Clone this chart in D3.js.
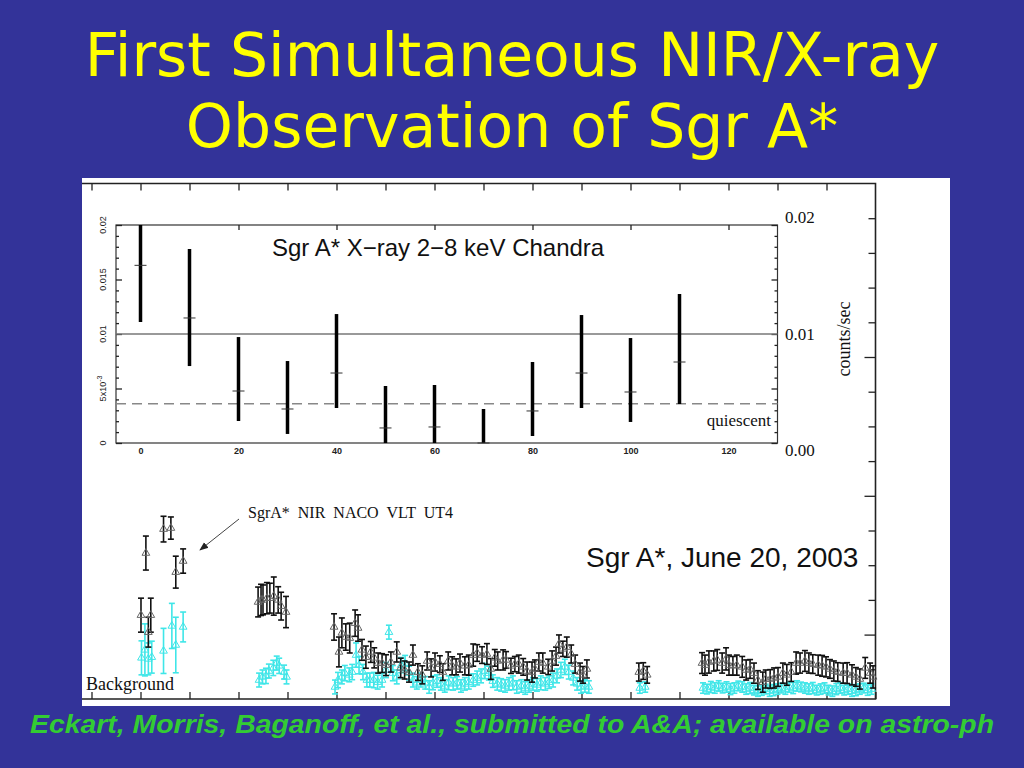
<!DOCTYPE html>
<html>
<head>
<meta charset="utf-8">
<script src="https://cdnjs.cloudflare.com/ajax/libs/d3/7.8.5/d3.min.js"></script>
<style>
body { margin: 0; background: #333399; }
.tick text { font-family: "Liberation Sans", Arial, sans-serif; }
</style>
</head>
<body>
<script>
var titleLines = ["First Simultaneous NIR/X-ray", "Observation of Sgr A*"];
var footerText = "Eckart, Morris, Baganoff, et al., submitted to A&A; available on astro-ph";

// Chandra 2-8 keV, counts/sec in 10 min bins
var xrayTime = [0, 10, 20, 30, 40, 50, 60, 70, 80, 90, 100, 110];
var xrayRate = [0.0163, 0.01147, 0.00477, 0.00312, 0.00642, 0.00138, 0.00147, 0.0, 0.00294, 0.00642, 0.00468, 0.00743];
var xrayLow  = [0.0111, 0.00706, 0.00202, 0.00083, 0.00321, 0.0, 0.0, 0.0, 0.00064, 0.00321, 0.00193, 0.00358];
var xrayHigh = [0.0200, 0.0178, 0.00972, 0.00752, 0.01183, 0.00523, 0.00532, 0.00312, 0.00743, 0.01174, 0.00963, 0.01367];
var quiescentLevel = 0.0036, refLevel = 0.01;
var xrayTicks = [0, 20, 40, 60, 80, 100, 120];
var xrayLeftLabels = [0, 0.005, 0.01, 0.015, 0.02];
var xrayRightLabels = ["0.02", "0.01", "0.00"];

// NACO NIR, SgrA* (minutes, flux)
var nirTime = [0.1, 1.1, 1.6, 2.1, 4.7, 6.2, 7.2, 8.7,
    24.0, 24.6, 25.0, 25.8, 26.4, 27.2, 28.1, 28.7, 29.7,
    39.5, 40.5, 41.1, 41.9, 42.7, 43.8, 44.4, 45.2, 46.0, 47.0, 47.7, 48.5, 49.3, 50.1, 51.1, 52.3, 53.1, 53.9, 54.8, 55.6,
    56.6, 57.5, 58.5, 59.3, 60.1, 61.1, 61.7, 62.8, 63.6, 64.4, 65.2, 66.2, 67.0, 67.9, 68.7, 69.7, 70.7, 71.5, 72.3, 72.9,
    74.0, 74.6, 75.6, 76.4, 77.2, 78.1, 78.9, 79.9, 80.5, 81.3, 82.1, 83.2, 84.0, 84.8, 85.4, 86.2, 87.0, 87.9, 88.7, 89.7, 90.3, 91.1,
    101.7, 102.6, 103.4,
    114.6, 115.2, 116.0, 117.0, 117.7, 118.7, 119.5, 120.1, 120.9, 121.7, 122.8, 123.6, 124.4, 125.2, 126.0, 127.0, 127.6, 128.5,
    129.3, 130.1, 131.1, 131.9, 132.8, 133.8, 134.6, 135.6, 136.4, 137.2, 138.3, 139.1, 139.9, 140.7, 141.5, 142.3, 143.4, 144.2,
    145.2, 146.0, 146.8, 147.9, 148.9, 149.5];
var nirFlux = [2.56, 4.35, 2.07, 2.56, 5.04, 5.07, 3.80, 4.12,
    2.94, 3.00, 3.00, 3.05, 3.05, 3.11, 3.00, 2.82, 2.65,
    2.22, 1.50, 2.05, 1.93, 1.90, 2.33, 2.19, 1.56, 1.35, 1.50, 1.33, 1.18, 1.18, 1.12, 1.21, 1.50, 1.04, 0.98, 0.92, 1.41,
    0.92, 0.84, 1.24, 1.04, 1.21, 1.15, 0.92, 1.24, 1.10, 1.07, 1.18, 1.10, 1.12, 1.41, 1.47, 1.41, 1.44, 1.01, 1.33, 1.24,
    1.27, 1.27, 1.10, 1.15, 1.15, 1.07, 0.95, 0.92, 1.01, 1.21, 1.18, 1.07, 1.24, 1.38, 1.73, 1.59, 1.64, 1.44, 1.15, 0.92, 0.84, 1.01,
    0.92, 0.95, 0.84,
    1.18, 1.12, 1.21, 1.24, 1.27, 1.18, 1.30, 1.12, 1.10, 1.12, 1.07, 0.98, 1.01, 0.89, 0.69, 0.63, 0.72, 0.72,
    0.75, 0.78, 0.89, 0.84, 0.92, 1.18, 1.18, 1.24, 1.18, 1.15, 1.12, 1.10, 1.07, 1.01, 0.95, 0.92, 0.89, 0.89,
    0.84, 0.78, 0.72, 1.04, 0.89, 0.78];
var nirErr = [0.49, 0.49, 0.43, 0.49, 0.37, 0.32, 0.46, 0.35,
    0.43, 0.45, 0.43, 0.45, 0.43, 0.55, 0.38, 0.40, 0.45,
    0.38, 0.43, 0.43, 0.38, 0.43, 0.38, 0.38, 0.30, 0.32, 0.30, 0.29, 0.29, 0.27, 0.30, 0.29, 0.29, 0.28, 0.26, 0.29, 0.29,
    0.24, 0.26, 0.26, 0.26, 0.26, 0.24, 0.24, 0.26, 0.26, 0.23, 0.26, 0.26, 0.29, 0.32, 0.24, 0.24, 0.30, 0.30, 0.24, 0.26,
    0.29, 0.24, 0.22, 0.22, 0.26, 0.24, 0.26, 0.29, 0.26, 0.26, 0.29, 0.22, 0.29, 0.26, 0.26, 0.22, 0.29, 0.26, 0.26, 0.26, 0.24, 0.26,
    0.26, 0.24, 0.24,
    0.30, 0.29, 0.32, 0.29, 0.30, 0.29, 0.32, 0.29, 0.27, 0.29, 0.30, 0.29, 0.27, 0.29, 0.27, 0.29, 0.26, 0.27,
    0.29, 0.27, 0.29, 0.30, 0.27, 0.32, 0.29, 0.30, 0.29, 0.27, 0.29, 0.30, 0.29, 0.27, 0.29, 0.27, 0.29, 0.30,
    0.29, 0.27, 0.29, 0.30, 0.29, 0.32];

// NACO NIR, background
var bgTime = [0.2, 0.9, 1.6, 2.3, 4.7, 6.4, 7.2, 8.7,
    24.2, 24.9, 25.6, 26.2, 27.1, 27.8, 28.3, 29.3, 29.8,
    39.7, 40.3, 41.1, 41.7, 42.6, 43.2, 44.0, 44.6, 45.4, 46.2, 46.8, 47.6, 48.4, 49.3, 50.1, 50.7, 51.5, 52.3, 53.2, 54.0,
    54.8, 55.6, 56.4, 57.2, 58.1, 58.9, 59.7, 60.5, 61.3, 62.1, 62.9, 63.8, 64.6, 65.4, 66.2, 67.0, 67.9, 68.7, 69.5, 70.3,
    71.1, 71.9, 72.8, 73.6, 74.4, 75.2, 76.0, 76.8, 77.7, 78.5, 79.3, 80.1, 80.9, 81.7, 82.6, 83.4, 84.2, 85.0, 85.8, 86.6,
    87.4, 88.3, 89.1, 89.9, 90.7, 91.5,
    101.9, 103.0,
    114.8, 115.6, 116.4, 117.2, 118.0, 118.8, 119.6, 120.4, 121.2, 122.0, 122.8, 123.6, 124.4, 125.2, 126.0, 126.8, 127.6, 128.4,
    129.2, 130.0, 130.8, 131.6, 132.4, 133.2, 134.0, 134.8, 135.6, 136.4, 137.2, 138.0, 138.8, 139.6, 140.4, 141.2, 142.0, 142.8,
    143.6, 144.4, 145.2, 146.0, 146.8, 147.6, 148.4, 149.2];
var bgFlux = [1.33, 1.56, 1.30, 1.35, 1.53, 2.25, 1.70, 2.22,
    0.69, 0.78, 0.81, 0.95, 1.04, 1.18, 1.10, 0.92, 0.78,
    0.49, 0.69, 0.78, 0.89, 0.84, 0.92, 1.41, 1.12, 0.92, 0.69, 0.69, 0.69, 0.63, 0.69, 0.98, 2.07, 0.89, 0.78, 1.12, 1.18,
    0.89, 0.69, 0.61, 0.69, 0.61, 0.49, 0.61, 0.66, 0.58, 0.52, 0.61, 0.58, 0.61, 0.52, 0.58, 0.63, 0.69, 0.75, 0.81, 0.95,
    0.89, 0.66, 0.58, 0.55, 0.52, 0.58, 0.61, 0.49, 0.52, 0.46, 0.52, 0.58, 0.55, 0.61, 0.58, 0.63, 0.69, 0.81, 0.98, 1.07,
    0.92, 0.75, 0.58, 0.49, 0.52, 0.49,
    0.46, 0.49,
    0.46, 0.43, 0.49, 0.46, 0.52, 0.46, 0.49, 0.43, 0.46, 0.52, 0.49, 0.43, 0.46, 0.40, 0.37, 0.40, 0.43, 0.37,
    0.40, 0.43, 0.46, 0.43, 0.49, 0.46, 0.52, 0.49, 0.46, 0.43, 0.46, 0.40, 0.43, 0.46, 0.40, 0.37, 0.43, 0.46,
    0.40, 0.43, 0.37, 0.40, 0.43, 0.46, 0.40, 0.43];
var bgErr = [0.49, 0.75, 0.46, 0.46, 0.65, 0.65, 0.80, 0.43,
    0.20, 0.20, 0.22, 0.20, 0.22, 0.20, 0.22, 0.20, 0.20,
    0.20, 0.22, 0.20, 0.22, 0.20, 0.22, 0.35, 0.25, 0.22, 0.20, 0.20, 0.22, 0.20, 0.20, 0.22, 0.20, 0.22, 0.20, 0.22, 0.22,
    0.20, 0.20, 0.18, 0.20, 0.18, 0.18, 0.20, 0.18, 0.18, 0.18, 0.20, 0.18, 0.18, 0.18, 0.18, 0.20, 0.18, 0.20, 0.20, 0.22,
    0.20, 0.18, 0.18, 0.18, 0.18, 0.18, 0.20, 0.18, 0.18, 0.18, 0.18, 0.18, 0.18, 0.20, 0.18, 0.18, 0.20, 0.20, 0.22, 0.22,
    0.20, 0.20, 0.18, 0.18, 0.18, 0.18,
    0.15, 0.15,
    0.15, 0.14, 0.16, 0.15, 0.15, 0.14, 0.15, 0.16, 0.15, 0.14, 0.15, 0.15, 0.16, 0.14, 0.15, 0.15, 0.14, 0.15,
    0.16, 0.15, 0.14, 0.15, 0.15, 0.16, 0.15, 0.14, 0.15, 0.15, 0.16, 0.14, 0.15, 0.15, 0.14, 0.15, 0.16, 0.15,
    0.14, 0.15, 0.15, 0.16, 0.15, 0.14, 0.15, 0.15];

var nirTimeTicks = [-10, 0, 10, 20, 30, 40, 50, 60, 70, 80, 90, 100, 110, 120, 130, 140];
var nirFluxTicks = [1, 2, 3, 4, 5, 6, 7, 8, 9, 10, 11, 12, 13, 14];

var w = 1024, h = 768,
    panelL = 82, panelT = 178, panelR = 950, panelB = 706,
    frameTop = 183.5, frameBottom = 699, frameRight = 875.5;

var svg = d3.select("body").append("svg")
    .attr("width", w)
    .attr("height", h);

svg.append("rect").attr("width", w).attr("height", h).style("fill", "#333399");

svg.selectAll(".title")
    .data(titleLines)
    .enter()
    .append("text")
    .attr("class", "title")
    .attr("x", 512)
    .attr("y", function (d, i) { return 76 + i * 71; })
    .attr("text-anchor", "middle")
    .style("font-family", "'DejaVu Sans', Verdana, sans-serif")
    .style("font-size", "60px")
    .style("fill", "#ffff00")
    .text(function (d) { return d; });

svg.append("rect")
    .attr("x", panelL).attr("y", panelT)
    .attr("width", panelR - panelL).attr("height", panelB - panelT)
    .style("fill", "#ffffff");

var x = d3.scaleLinear().domain([-12, 150]).range([81.7, 875.5]),
    yN = d3.scaleLinear().domain([0, 15]).range([704, 183.5]),
    yX = d3.scaleLinear().domain([0, 0.02]).range([443, 225]),
    yR = d3.scaleLinear().domain([0, 0.02]).range([450, 217]);

var plot = svg.append("g");

// outer NIR frame
plot.append("path")
    .attr("d", "M" + panelL + "," + frameTop + "H" + frameRight + "V" + frameBottom + "H" + panelL)
    .style("fill", "none")
    .style("stroke", "#222")
    .style("stroke-width", 1.6);

function styleAxis(g) {
    g.select(".domain").remove();
    g.selectAll(".tick line").style("stroke", "#222").style("stroke-width", 1.3);
    g.selectAll(".tick text").remove();
}

plot.append("g")
    .attr("transform", "translate(0," + frameTop + ")")
    .call(d3.axisBottom(x).tickValues(nirTimeTicks).tickSize(7))
    .call(styleAxis);
plot.append("g")
    .attr("transform", "translate(0," + frameBottom + ")")
    .call(d3.axisTop(x).tickValues(nirTimeTicks.concat([150])).tickSize(7))
    .call(styleAxis);
plot.append("g")
    .attr("transform", "translate(" + frameRight + ",0)")
    .call(d3.axisLeft(yN).tickValues(nirFluxTicks).tickSize(7))
    .call(styleAxis)
    .selectAll(".tick line")
    .attr("x2", function (d) { return (d == 2 || d == 6 || d == 10) ? -11 : -7; });

function drawSeries(times, flux, err, barColor, markColor) {
    var pts = times.map(function (t, i) { return {t: t, v: flux[i], e: err[i]}; });
    var g = plot.append("g")
        .style("stroke", barColor)
        .style("stroke-width", 1.6)
        .style("fill", "none");
    g.selectAll(".bar").data(pts).enter().append("line")
        .attr("x1", function (d) { return x(d.t); })
        .attr("x2", function (d) { return x(d.t); })
        .attr("y1", function (d) { return yN(d.v - d.e); })
        .attr("y2", function (d) { return yN(d.v + d.e); });
    g.selectAll(".capHi").data(pts).enter().append("line")
        .attr("x1", function (d) { return x(d.t) - 3; })
        .attr("x2", function (d) { return x(d.t) + 3; })
        .attr("y1", function (d) { return yN(d.v + d.e); })
        .attr("y2", function (d) { return yN(d.v + d.e); });
    g.selectAll(".capLo").data(pts).enter().append("line")
        .attr("x1", function (d) { return x(d.t) - 3; })
        .attr("x2", function (d) { return x(d.t) + 3; })
        .attr("y1", function (d) { return yN(d.v - d.e); })
        .attr("y2", function (d) { return yN(d.v - d.e); });
    g.selectAll(".mark").data(pts).enter().append("path")
        .attr("transform", function (d) { return "translate(" + x(d.t) + "," + yN(d.v) + ")"; })
        .attr("d", d3.symbol(d3.symbolTriangle).size(26))
        .style("stroke", markColor)
        .style("stroke-width", 1);
}

plot.append("text")
    .attr("x", 86).attr("y", 690)
    .style("font-family", "'Liberation Serif', 'Times New Roman', serif")
    .style("font-size", "18px")
    .style("fill", "#111")
    .text("Background");

drawSeries(bgTime, bgFlux, bgErr, "#3fe6e8", "#3fe6e8");
drawSeries(nirTime, nirFlux, nirErr, "#111111", "#666666");

plot.append("text")
    .attr("x", 248).attr("y", 518)
    .style("font-family", "'Liberation Serif', 'Times New Roman', serif")
    .style("font-size", "16px")
    .style("white-space", "pre")
    .style("fill", "#111")
    .text("SgrA*  NIR  NACO  VLT  UT4");

svg.append("defs").append("marker")
    .attr("id", "arrow")
    .attr("viewBox", "0 0 10 10")
    .attr("refX", 9).attr("refY", 5)
    .attr("markerWidth", 9).attr("markerHeight", 9)
    .attr("orient", "auto")
    .append("path")
    .attr("d", "M0,1L10,5L0,9z")
    .style("fill", "#222");

plot.append("line")
    .attr("x1", 239).attr("y1", 519)
    .attr("x2", 200).attr("y2", 550)
    .style("stroke", "#444")
    .style("stroke-width", 1)
    .attr("marker-end", "url(#arrow)");

plot.append("text")
    .attr("x", 586).attr("y", 567)
    .style("font-family", "'Liberation Sans', Arial, sans-serif")
    .style("font-size", "28px")
    .style("fill", "#111")
    .text("Sgr A*, June 20, 2003");

// inner X-ray plot
var xr = svg.append("g");
var innerL = x(-5), innerR = x(130), innerT = yX(0.02), innerB = yX(0);

xr.append("rect")
    .attr("x", innerL).attr("y", innerT)
    .attr("width", innerR - innerL).attr("height", innerB - innerT)
    .style("fill", "#fff")
    .style("stroke", "#333")
    .style("stroke-width", 1.2);

var minorY = d3.range(0, 0.0201, 0.001);
xr.append("g")
    .attr("transform", "translate(" + innerL + ",0)")
    .call(d3.axisRight(yX).tickValues(minorY).tickSize(3))
    .call(styleAxis)
    .selectAll(".tick line").attr("x2", function (d, i) { return i % 5 == 0 ? 6 : 3; });
xr.append("g")
    .attr("transform", "translate(" + innerR + ",0)")
    .call(d3.axisLeft(yX).tickValues(minorY).tickSize(3))
    .call(styleAxis)
    .selectAll(".tick line").attr("x2", function (d, i) { return i % 5 == 0 ? -6 : -3; });
xr.append("g")
    .attr("transform", "translate(0," + innerT + ")")
    .call(d3.axisBottom(x).tickValues(xrayTicks).tickSize(5))
    .call(styleAxis);

var xLab = xr.append("g")
    .attr("transform", "translate(0," + innerB + ")")
    .call(d3.axisBottom(x).tickValues(xrayTicks).tickSize(0).tickPadding(5));
xLab.select(".domain").remove();
xLab.selectAll(".tick text")
    .style("font-size", "9px")
    .style("font-weight", "bold")
    .style("fill", "#222");

xr.selectAll(".ylab")
    .data(xrayLeftLabels)
    .enter()
    .append("text")
    .attr("transform", function (d) { return "translate(106," + yX(d) + ") rotate(-90)"; })
    .attr("text-anchor", "middle")
    .style("font-family", "'Liberation Sans', Arial, sans-serif")
    .style("font-size", "9px")
    .style("fill", "#222")
    .each(function (d) {
        var t = d3.select(this);
        if (d == 0.005) {
            t.append("tspan").text("5x10");
            t.append("tspan").attr("dy", -4).style("font-size", "7px").text("-3");
        } else {
            t.text(d == 0 ? "0" : String(d));
        }
    });

xr.append("line")
    .attr("x1", innerL).attr("x2", innerR)
    .attr("y1", yX(refLevel)).attr("y2", yX(refLevel))
    .style("stroke", "#777").style("stroke-width", 1.3);
xr.append("line")
    .attr("x1", innerL).attr("x2", innerR)
    .attr("y1", yX(quiescentLevel)).attr("y2", yX(quiescentLevel))
    .style("stroke", "#888").style("stroke-width", 1.5)
    .style("stroke-dasharray", "10,6");

var xpts = xrayTime.map(function (t, i) { return {t: t, v: xrayRate[i], lo: xrayLow[i], hi: xrayHigh[i]}; });
xr.selectAll(".xbar").data(xpts).enter().append("line")
    .attr("x1", function (d) { return x(d.t); })
    .attr("x2", function (d) { return x(d.t); })
    .attr("y1", function (d) { return yX(d.lo); })
    .attr("y2", function (d) { return yX(d.hi); })
    .style("stroke", "#000")
    .style("stroke-width", 3.5);
xr.selectAll(".xmid").data(xpts).enter().append("line")
    .attr("x1", function (d) { return x(d.t) - 6; })
    .attr("x2", function (d) { return x(d.t) + 6; })
    .attr("y1", function (d) { return yX(d.v); })
    .attr("y2", function (d) { return yX(d.v); })
    .style("stroke", "#333")
    .style("stroke-width", 1);

xr.append("text")
    .attr("x", 272).attr("y", 256)
    .style("font-family", "'Liberation Sans', Arial, sans-serif")
    .style("font-size", "24px")
    .style("fill", "#111")
    .text("Sgr A* X\u2212ray 2\u22128 keV Chandra");

xr.append("text")
    .attr("x", 771).attr("y", 426)
    .attr("text-anchor", "end")
    .style("font-family", "'Liberation Serif', 'Times New Roman', serif")
    .style("font-size", "17px")
    .style("fill", "#111")
    .text("quiescent");

xr.selectAll(".rlab")
    .data(xrayRightLabels)
    .enter()
    .append("text")
    .attr("x", 785)
    .attr("y", function (d) { return yR(+d) + 6; })
    .style("font-family", "'Liberation Serif', 'Times New Roman', serif")
    .style("font-size", "17px")
    .style("fill", "#111")
    .text(function (d) { return d; });

xr.append("text")
    .attr("transform", "translate(850,339) rotate(-90)")
    .attr("text-anchor", "middle")
    .style("font-family", "'Liberation Serif', 'Times New Roman', serif")
    .style("font-size", "18px")
    .style("fill", "#111")
    .text("counts/sec");

svg.append("text")
    .attr("x", 30).attr("y", 733)
    .attr("textLength", 964)
    .attr("lengthAdjust", "spacingAndGlyphs")
    .style("font-family", "'Liberation Sans', Arial, sans-serif")
    .style("font-size", "26px")
    .style("font-weight", "bold")
    .style("font-style", "italic")
    .style("fill", "#33cc33")
    .text(footerText);
</script>
</body>
</html>
